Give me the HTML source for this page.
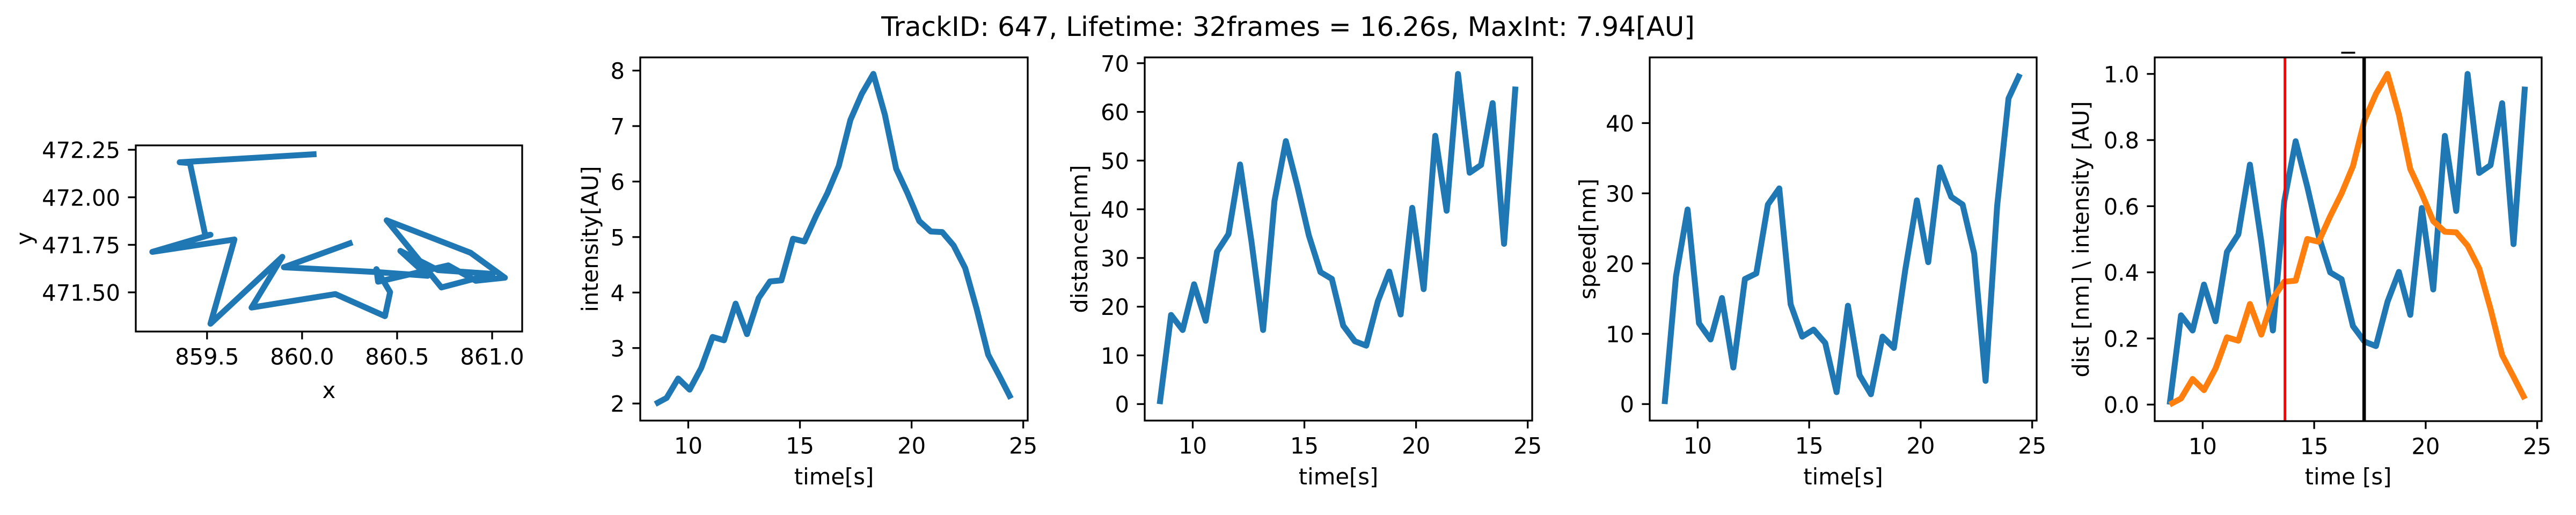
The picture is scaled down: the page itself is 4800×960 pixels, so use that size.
<!DOCTYPE html>
<html><head><meta charset="utf-8"><style>
html,body{margin:0;padding:0;background:#fff;}
svg{display:block;font-family:"DejaVu Sans","Liberation Sans",sans-serif;}
</style></head><body>
<svg id="fig" width="4800" height="960" viewBox="0 0 4800 960" xmlns="http://www.w3.org/2000/svg">
<rect width="4800" height="960" fill="#fff"/>
<text x="2400" y="67" font-size="50" text-anchor="middle">TrackID: 647, Lifetime: 32frames = 16.26s, MaxInt: 7.94[AU]</text>
</svg>
<script>
// ---- data ----
const times = [8.52, 9.03, 9.55, 10.06, 10.58, 11.09, 11.60, 12.12, 12.63, 13.15, 13.66, 14.17, 14.69, 15.20, 15.72, 16.23, 16.74, 17.26, 17.77, 18.29, 18.80, 19.31, 19.83, 20.34, 20.86, 21.37, 21.88, 22.40, 22.91, 23.43, 23.94, 24.45];
const intensity = [1.99, 2.10, 2.45, 2.25, 2.64, 3.20, 3.14, 3.80, 3.25, 3.90, 4.20, 4.22, 4.97, 4.92, 5.38, 5.79, 6.28, 7.11, 7.58, 7.94, 7.21, 6.23, 5.78, 5.29, 5.10, 5.09, 4.85, 4.44, 3.71, 2.88, 2.49, 2.09];
const distance = [0, 18.3, 15.2, 24.6, 17.1, 31.3, 34.9, 49.2, 33.4, 15.2, 41.7, 54.0, 44.7, 34.6, 27.1, 25.7, 16.1, 12.9, 12.0, 21.1, 27.2, 18.4, 40.3, 23.6, 55.1, 39.7, 67.8, 47.5, 49.1, 61.8, 32.9, 65.2];
const speed = [0, 18.2, 27.7, 11.5, 9.2, 15.1, 5.2, 17.8, 18.6, 28.4, 30.7, 14.2, 9.6, 10.6, 8.7, 1.7, 14.0, 4.1, 1.4, 9.6, 8.0, 19.1, 29.0, 20.2, 33.7, 29.5, 28.4, 21.4, 3.3, 28.2, 43.5, 47.0];
const trackX = [860.076, 859.356, 859.410, 859.491, 859.518, 859.212, 859.644, 859.518, 859.896, 859.734, 860.175, 860.436, 860.463, 860.391, 860.400, 860.769, 860.914, 861.067, 860.887, 860.445, 860.733, 861.004, 860.715, 860.517, 860.661, 860.391, 859.904, 860.265];
const trackY = [472.227, 472.184, 472.180, 471.799, 471.803, 471.713, 471.778, 471.335, 471.687, 471.420, 471.491, 471.375, 471.501, 471.622, 471.556, 471.642, 471.561, 471.577, 471.708, 471.879, 471.526, 471.597, 471.617, 471.718, 471.587, 471.607, 471.632, 471.763];
const markerTimes = [13.69, 17.24];
const timeTicks = [10, 15, 20, 25];
const intensityTicks = [2, 3, 4, 5, 6, 7, 8];
const distanceTicks = [0, 10, 20, 30, 40, 50, 60, 70];
const speedTicks = [0, 10, 20, 30, 40];
const normTicks = [0, 0.2, 0.4, 0.6, 0.8, 1.0];
const trackXTicks = [859.5, 860.0, 860.5, 861.0];
const trackYTicks = [471.50, 471.75, 472.00, 472.25];

const NS = "http://www.w3.org/2000/svg";
const svg = document.getElementById('fig');
function el(tag, attrs, parent){
  const e = document.createElementNS(NS, tag);
  for (const k in attrs) e.setAttribute(k, attrs[k]);
  (parent || svg).appendChild(e);
  return e;
}
function pad(lo, hi){ const r = hi - lo; return [lo - 0.05*r, hi + 0.05*r]; }
function scale(d0, d1, r0, r1){ return v => r0 + (v - d0) / (d1 - d0) * (r1 - r0); }

function drawAxes(name, box, xd, yd, xt, yt, xfmt, yfmt, xlabel, ylabel, ylabX, xlabY){
  const g = el('g', {});
  
  
  const sx = scale(xd[0], xd[1], box.l, box.r);
  const sy = scale(yd[0], yd[1], box.b, box.t);
  xt.forEach(v => {
    const x = sx(v);
    const t = el('line', {x1:x, x2:x, y1:box.b, y2:box.b+14.6, stroke:'#000', 'stroke-width':3.3}, g);
    
    
    const lb = el('text', {x:x, y:box.b+61.5, 'font-size':41.7, 'text-anchor':'middle'}, g);
    
    
    lb.textContent = xfmt(v);
  });
  yt.forEach(v => {
    const y = sy(v);
    const t = el('line', {x1:box.l-14.6, x2:box.l, y1:y, y2:y, stroke:'#000', 'stroke-width':3.3}, g);
    
    
    const lb = el('text', {x:box.l-29, y:y+15.5, 'font-size':41.7, 'text-anchor':'end'}, g);
    
    
    lb.textContent = yfmt(v);
  });
  const xl = el('text', {x:(box.l+box.r)/2, y:xlabY, 'font-size':41.7, 'text-anchor':'middle'}, g);
  
  
  xl.textContent = xlabel;
  const cy = (box.t+box.b)/2;
  const yl = el('text', {x:ylabX, y:cy, 'font-size':41.7, 'text-anchor':'middle', transform:`rotate(-90 ${ylabX} ${cy})`}, g);
  
  
  yl.textContent = ylabel;
  return {g, sx, sy};
}
function frame(g, box){
  const f = el('rect', {x:box.l, y:box.t, width:box.r-box.l, height:box.b-box.t, fill:'none', stroke:'#000', 'stroke-width':3.3}, g);
  
  
}
function series(g, xs, ys, sx, sy, color, name, box){
  const pts = xs.map((x,i) => sx(x).toFixed(1) + ',' + sy(ys[i]).toFixed(1)).join(' ');
  const p = el('polyline', {points:pts, fill:'none', stroke:color, 'stroke-width':11, 'stroke-linejoin':'round', 'stroke-linecap':'butt'}, g);
  
  
}
const tfmt = v => String(v);
const timeDom = [7.85, 25.2];

// Panel 1: trajectory
(function(){
  const box = {l:253, r:973, t:271, b:618};
  const a = drawAxes('trajectory-panel', box, [859.125, 861.158], [471.294, 472.273], trackXTicks, trackYTicks,
    v => v.toFixed(1), v => v.toFixed(2), 'x', 'y', 60, 742);
  series(a.g, trackX, trackY, a.sx, a.sy, '#1f77b4', 'trajectory-line', box);
  frame(a.g, box);
})();

// Panel 2: intensity
(function(){
  const box = {l:1193, r:1915, t:107, b:784};
  const yd = pad(Math.min(...intensity), Math.max(...intensity));
  const a = drawAxes('intensity-panel', box, timeDom, yd, timeTicks, intensityTicks, tfmt, tfmt, 'time[s]', 'intensity[AU]', 1114, 903);
  series(a.g, times, intensity, a.sx, a.sy, '#1f77b4', 'intensity-line', box);
  frame(a.g, box);
})();

// Panel 3: distance
(function(){
  const box = {l:2133, r:2855, t:107, b:784};
  const yd = pad(Math.min(...distance), Math.max(...distance));
  const a = drawAxes('distance-panel', box, timeDom, yd, timeTicks, distanceTicks, tfmt, tfmt, 'time[s]', 'distance[nm]', 2026, 903);
  series(a.g, times, distance, a.sx, a.sy, '#1f77b4', 'distance-line', box);
  frame(a.g, box);
})();

// Panel 4: speed
(function(){
  const box = {l:3074, r:3795, t:107, b:784};
  const yd = pad(Math.min(...speed), Math.max(...speed));
  const a = drawAxes('speed-panel', box, timeDom, yd, timeTicks, speedTicks, tfmt, tfmt, 'time[s]', 'speed[nm]', 2973, 903);
  series(a.g, times, speed, a.sx, a.sy, '#1f77b4', 'speed-line', box);
  frame(a.g, box);
})();

// Panel 5: normalized distance / intensity
(function(){
  const box = {l:4015, r:4736, t:107, b:785};
  const norm = arr => { const lo = Math.min(...arr), hi = Math.max(...arr); return arr.map(v => (v-lo)/(hi-lo)); };
  const nd = norm(distance), ni = norm(intensity);
  const a = drawAxes('normalized-panel', box, timeDom, [-0.05, 1.05], timeTicks, normTicks, tfmt, v => v.toFixed(1), 'time [s]', 'dist [nm] \\ intensity [AU]', 3892, 903);
  series(a.g, times, nd, a.sx, a.sy, '#1f77b4', 'norm-distance-line', box);
  series(a.g, times, ni, a.sx, a.sy, '#ff7f0e', 'norm-intensity-line', box);
  const colors = ['#ff0000', '#000000'], widths = [5, 6.5];
  markerTimes.forEach((t,i) => {
    const x = a.sx(t);
    const l = el('line', {x1:x, x2:x, y1:box.t, y2:box.b, stroke:colors[i], 'stroke-width':widths[i]}, a.g);
    
    
  });
  frame(a.g, box);
  const tt = el('text', {x:(box.l+box.r)/2, y:88, 'font-size':50, 'text-anchor':'middle'}, a.g);
  
  
  tt.textContent = '_';
})();
</script>
</body></html>
